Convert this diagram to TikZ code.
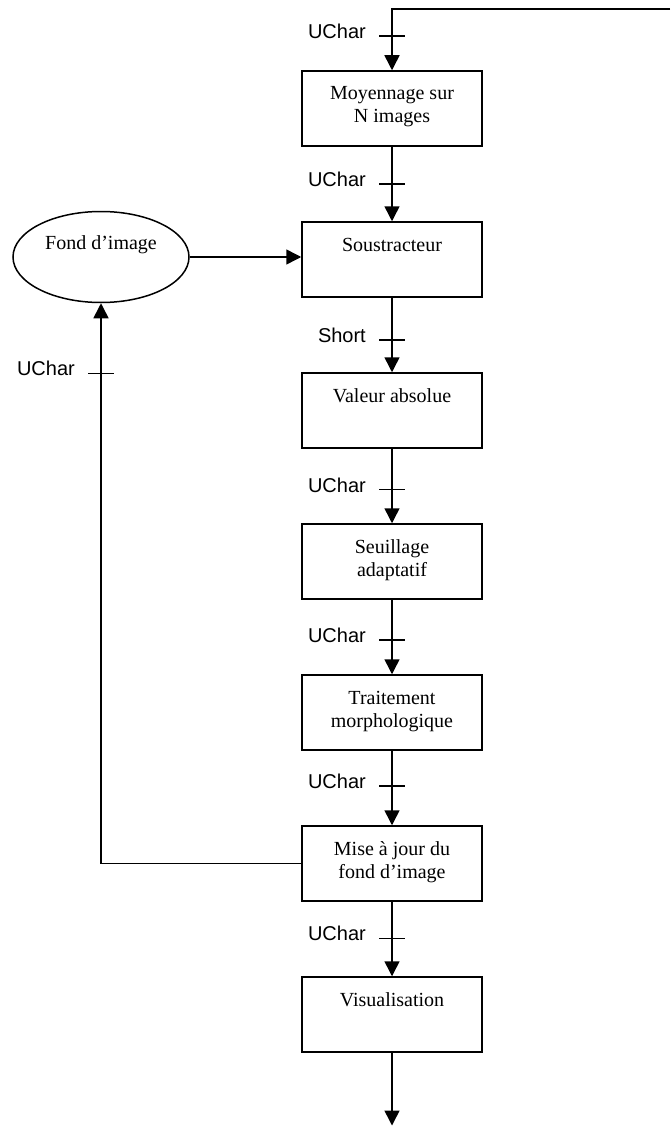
\documentclass[tikz,border=0pt]{standalone}
\usepackage{fontspec}
\setmainfont{Liberation Serif}
\newfontfamily\labelfont{Liberation Sans}
\usetikzlibrary{arrows.meta,shapes.geometric}

% text of a processing stage, set from the top of its box
\newcommand\stagetext[1]{\parbox[c][75pt][t]{176pt}{\centering\fontsize{20}{23}\selectfont\rule{0pt}{29pt}#1}}

\begin{document}
\begin{tikzpicture}[x=1pt,y=-1pt,
  stage/.style={draw, line width=1.5pt, rectangle, minimum width=180pt,
                minimum height=75pt, inner sep=0pt},
  store/.style={draw, line width=1.5pt, ellipse, minimum width=176pt,
                minimum height=91pt, inner sep=0pt},
  flow/.style={line width=1.5pt, -{Triangle[length=15pt,width=15pt]}},
  tickmark/.style={line width=1.5pt},
  datatype/.style={font=\labelfont\fontsize{20}{24}\selectfont,
                   anchor=base east, inner sep=0pt},
]
\useasboundingbox (0,0) rectangle (670,1126);

% a tick across a connector, with the type of the data it carries
\newcommand\typetick[3]{%
  \draw[tickmark] ([xshift=-13pt]#1) -- ([xshift=13pt]#1);
  \node[datatype] (#2) at ([xshift=-26pt,yshift=-2.7pt]#1) {#3};}

% processing chain
\node[stage] (moy)  at (392,108.5)  {\stagetext{Moyennage sur\\N images}};
\node[stage] (sous) at (392,259.5)  {\stagetext{Soustracteur}};
\node[stage] (val)  at (392,410.5)  {\stagetext{Valeur absolue}};
\node[stage] (seu)  at (392,561.5)  {\stagetext{Seuillage\\adaptatif}};
\node[stage] (tra)  at (392,712.5)  {\stagetext{Traitement\\morphologique}};
\node[stage] (mise) at (392,863.5)  {\stagetext{Mise à jour du\\fond d’image}};
\node[stage] (vis)  at (392,1014.5) {\stagetext{Visualisation}};

% stored background
\node[store, label={[font=\fontsize{20}{23}\selectfont, yshift=12pt]center:Fond d’image}]
  (fond) at (101,257) {};

% free ends of the chain
\coordinate (in)  at (670,9);
\coordinate (out) at (392,1125.5);

% connectors
\draw[flow] (in) -| (moy.north);
\draw[flow] (moy.south)  -- coordinate[pos=0.50] (t1) (sous.north);
\draw[flow] (sous.south) -- coordinate[pos=0.57] (t2) (val.north);
\draw[flow] (val.south)  -- coordinate[pos=0.55] (t3) (seu.north);
\draw[flow] (seu.south)  -- coordinate[pos=0.54] (t4) (tra.north);
\draw[flow] (tra.south)  -- coordinate[pos=0.47] (t5) (mise.north);
\draw[flow] (mise.south) -- coordinate[pos=0.49] (t6) (vis.north);
\draw[flow] (vis.south) -- (out);
\draw[flow] (fond.east) -- (fond.east -| sous.west);
\draw[flow] (mise.west) -| (fond.south);

\coordinate (t0) at ([yshift=34pt]moy.north);
\coordinate (t7) at ([yshift=-70pt]fond.south);

% data types on the connectors
\typetick{t0}{l0}{UChar}
\typetick{t1}{l1}{UChar}
\typetick{t2}{l2}{Short}
\typetick{t3}{l3}{UChar}
\typetick{t4}{l4}{UChar}
\typetick{t5}{l5}{UChar}
\typetick{t6}{l6}{UChar}
\typetick{t7}{l7}{UChar}
\end{tikzpicture}
\end{document}
